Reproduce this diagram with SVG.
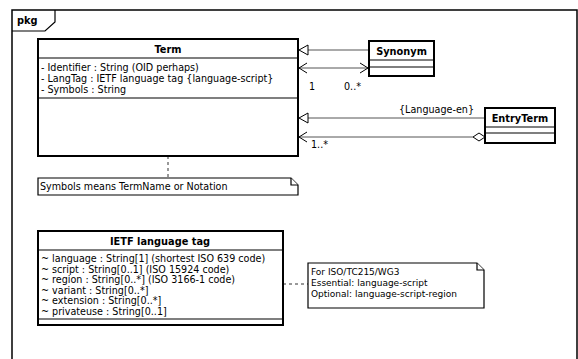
<svg xmlns="http://www.w3.org/2000/svg" width="578" height="359" viewBox="0 0 578 359">
<style>
text{font-family:"DejaVu Sans","Liberation Sans",sans-serif;font-size:9.6px;fill:#000}
.b{font-weight:bold;font-size:9.8px}
.c{text-anchor:middle}
.s{font-size:9px}
.box{fill:#fff;stroke:#000;stroke-width:2}
.sep{stroke:#000;stroke-width:1.2;fill:none}
.ln{stroke:#555;stroke-width:1;fill:none}
.hd{fill:#fff;stroke:#000;stroke-width:1}
.op{fill:none;stroke:#000;stroke-width:1}
.dash{stroke:#333;stroke-width:1;fill:none;stroke-dasharray:3,3}
.note{fill:#fff;stroke:#000;stroke-width:1.2}
</style>
<rect width="578" height="359" fill="#fff"/>
<g id="frame">
<path d="M12,359 V10 H577 V359" fill="none" stroke="#000" stroke-width="1.5"/>
<path d="M12,31 H45 L55,22 V10" fill="none" stroke="#000" stroke-width="1.2"/>
<text class="b" x="17" y="24">pkg</text>
</g>
<g id="connectors">
<line class="ln" x1="369" y1="50" x2="308" y2="50"/>
<path class="hd" d="M299,50 L308,45 L308,55 Z"/>
<line class="ln" x1="299" y1="68" x2="368" y2="68"/>
<path class="op" d="M307,63 L299,68 L307,73"/>
<path class="op" d="M360,63 L368,68 L360,73"/>
<text x="309" y="90">1</text>
<text x="344" y="90">0..*</text>
<line class="ln" x1="485" y1="118" x2="308" y2="118"/>
<path class="hd" d="M299,118 L308,113 L308,123 Z"/>
<text x="399" y="113">{Language-en}</text>
<line class="ln" x1="473" y1="137" x2="299" y2="137"/>
<path class="op" d="M307,132 L299,137 L307,142"/>
<path class="hd" d="M473,137 L479,133 L485,137 L479,141 Z"/>
<text x="311" y="148">1..*</text>
<line class="dash" x1="168" y1="156" x2="168" y2="178"/>
<line class="dash" x1="283" y1="284" x2="308" y2="284"/>
</g>
<g id="Term">
<rect class="box" x="38" y="39" width="260" height="117"/>
<line class="sep" x1="38" y1="58" x2="298" y2="58"/>
<line class="sep" x1="38" y1="98" x2="298" y2="98"/>
<text class="b c" x="168" y="53">Term</text>
<text x="41" y="71">- Identifier : String (OID perhaps)</text>
<text x="41" y="82">- LangTag : IETF language tag {language-script}</text>
<text x="41" y="93">- Symbols : String</text>
</g>
<g id="Synonym">
<rect class="box" x="369" y="41" width="65" height="35"/>
<line class="sep" x1="369" y1="60" x2="434" y2="60"/>
<line class="sep" x1="369" y1="67" x2="434" y2="67"/>
<text class="b c" x="401.5" y="55">Synonym</text>
</g>
<g id="EntryTerm">
<rect class="box" x="485" y="108" width="70" height="35"/>
<line class="sep" x1="485" y1="127" x2="555" y2="127"/>
<line class="sep" x1="485" y1="133" x2="555" y2="133"/>
<text class="b c" x="520" y="122">EntryTerm</text>
</g>
<g id="note1">
<path class="note" d="M38,178 H291 L298,185 V195 H38 Z"/>
<path class="note" d="M291,178 V185 H298" fill="none"/>
<text x="40" y="190">Symbols means TermName or Notation</text>
</g>
<g id="IETF">
<rect class="box" x="38" y="231" width="245" height="94"/>
<line class="sep" x1="38" y1="250" x2="283" y2="250"/>
<line class="sep" x1="38" y1="319" x2="283" y2="319"/>
<text class="b c" x="160" y="245">IETF language tag</text>
<text x="41" y="262">~ language : String[1] (shortest ISO 639 code)</text>
<text x="41" y="272.6">~ script : String[0..1] (ISO 15924 code)</text>
<text x="41" y="283.2">~ region : String[0..*] (ISO 3166-1 code)</text>
<text x="41" y="293.8">~ variant : String[0..*]</text>
<text x="41" y="304.4">~ extension : String[0..*]</text>
<text x="41" y="315">~ privateuse : String[0..1]</text>
</g>
<g id="note2">
<path class="note" d="M308,263 H477 L484,270 V308 H308 Z"/>
<path class="note" d="M477,263 V270 H484" fill="none"/>
<text class="s" x="311" y="275">For ISO/TC215/WG3</text>
<text class="s" x="311" y="286">Essential:  language-script</text>
<text class="s" x="311" y="297">Optional:  language-script-region</text>
</g>
</svg>
